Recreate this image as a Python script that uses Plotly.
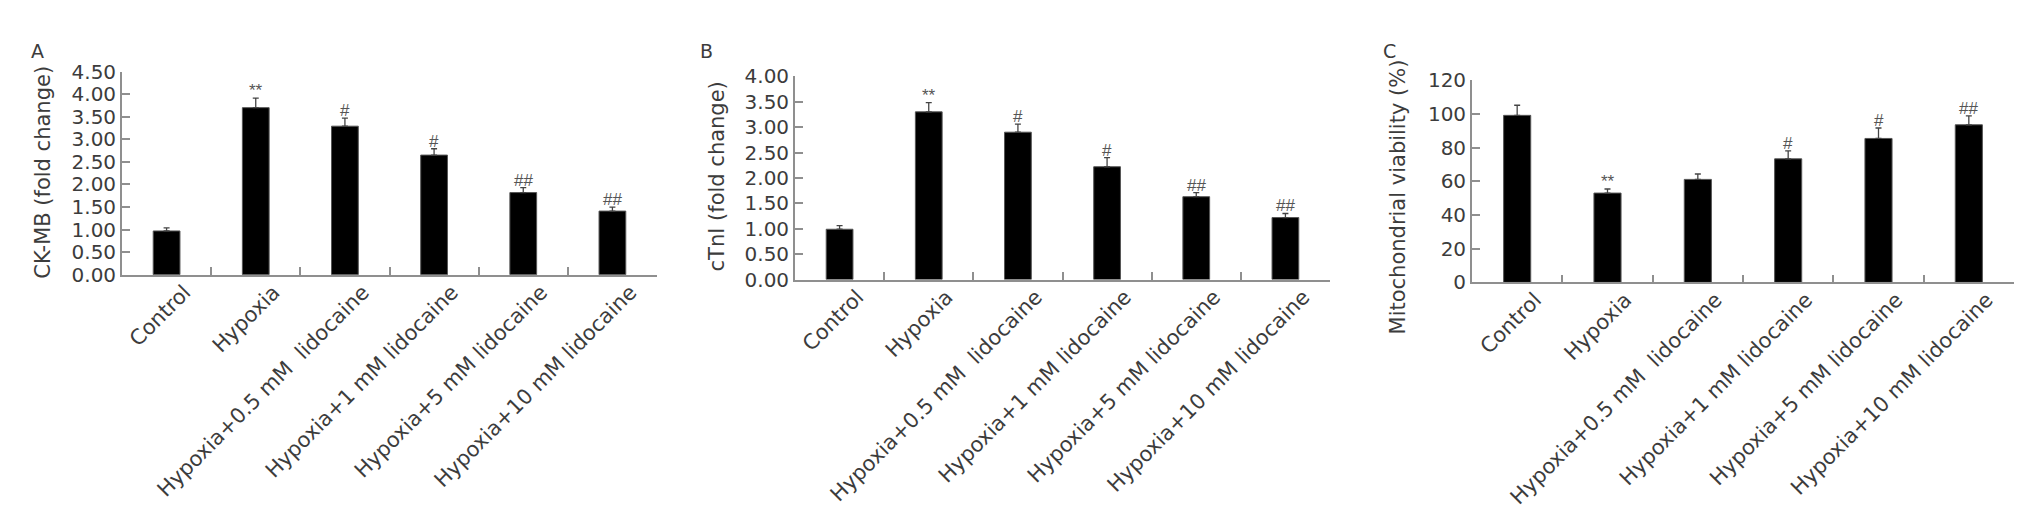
import plotly.graph_objects as go

categories = ["Control", "Hypoxia", "Hypoxia+0.5 mM  lidocaine", "Hypoxia+1 mM lidocaine",
              "Hypoxia+5 mM lidocaine", "Hypoxia+10 mM lidocaine"]

ckmb = [0.97, 3.70, 3.29, 2.65, 1.82, 1.41]
ckmb_err = [0.07, 0.21, 0.18, 0.14, 0.11, 0.09]
ckmb_sig = ["", "**", "#", "#", "##", "##"]

ctni = [0.99, 3.30, 2.90, 2.22, 1.63, 1.22]
ctni_err = [0.07, 0.18, 0.16, 0.18, 0.08, 0.08]
ctni_sig = ["", "**", "#", "#", "##", "##"]

mito = [99.1, 53.0, 61.1, 73.3, 85.4, 93.5]
mito_err = [6.0, 2.4, 3.2, 4.7, 6.2, 5.3]
mito_sig = ["", "**", "", "#", "#", "##"]

W, H = 2031, 524
FONT = "DejaVu Sans, Arial, sans-serif"
SFONT = "Liberation Sans, Arial, sans-serif"
TXT = "#3c3c3c"
AX = "#8f8f8f"

panels = [
    dict(vals=ckmb, err=ckmb_err, sig=ckmb_sig, x0=114, x1=649, ytop=54, ybot=267,
         rng=[0, 4.5], dtick=0.5, fmt=".2f", title="CK-MB (fold change)", letter="A",
         lx=23, tx=35, ty=160),
    dict(vals=ctni, err=ctni_err, sig=ctni_sig, x0=787, x1=1322, ytop=59, ybot=272,
         rng=[0, 4.0], dtick=0.5, fmt=".2f", title="cTnI (fold change)", letter="B",
         lx=692, tx=709, ty=164),
    dict(vals=mito, err=mito_err, sig=mito_sig, x0=1464, x1=2006, ytop=63, ybot=275,
         rng=[0, 120], dtick=20, fmt="d", title="Mitochondrial viability (%)", letter="C",
         lx=1375, tx=1390, ty=186),
]

fig = go.Figure()
annotations = []
for i, p in enumerate(panels):
    n = "" if i == 0 else str(i + 1)
    xa, ya = "x" + n, "y" + n
    fig.add_trace(go.Bar(
        x=categories, y=p["vals"], xaxis=xa, yaxis=ya,
        marker=dict(color="black", line=dict(color="#555555", width=1)),
        error_y=dict(type="data", symmetric=False, array=p["err"],
                     arrayminus=[0] * len(p["err"]), color="#444444", thickness=1.3, width=3),
        showlegend=False,
    ))
    fig.layout["xaxis" + n] = dict(
        domain=[p["x0"] / W, p["x1"] / W], anchor=ya, type="category",
        range=[-0.5, 5.5], showline=True, linecolor=AX, linewidth=1.8,
        ticks="inside", tickson="boundaries", ticklen=8, tickcolor=AX, tickwidth=1.5,
        tickangle=-45, tickfont=dict(family=FONT, size=21, color=TXT),
        ticklabelshift=18, ticklabelstandoff=-5,
        showgrid=False, zeroline=False,
    )
    fig.layout["yaxis" + n] = dict(
        domain=[1 - p["ybot"] / H, 1 - p["ytop"] / H], anchor=xa,
        range=p["rng"], dtick=p["dtick"], tick0=0, tickformat=p["fmt"],
        showline=True, linecolor=AX, linewidth=1.8,
        ticks="inside", ticklen=8, tickcolor=AX, tickwidth=1.5,
        tickfont=dict(family=FONT, size=20, color=TXT),
        showgrid=False, zeroline=False,
    )
    annotations.append(dict(
        x=p["tx"] / W, y=1 - p["ty"] / H, xref="paper", yref="paper",
        text=p["title"], textangle=-90, showarrow=False, xanchor="center", yanchor="middle",
        font=dict(family=FONT, size=21, color=TXT),
    ))
    annotations.append(dict(
        x=p["lx"] / W, y=1 - 33 / H, xref="paper", yref="paper", text=p["letter"],
        showarrow=False, xanchor="left", yanchor="middle", xshift=-2,
        font=dict(family=FONT, size=19, color=TXT),
    ))
    for c, v, e, s in zip(categories, p["vals"], p["err"], p["sig"]):
        if s:
            annotations.append(dict(
                x=c, y=v + e, xref=xa, yref=ya, text=s, showarrow=False,
                xanchor="center", yanchor="bottom", yshift=-4,
                font=dict(family=SFONT, size=17, color="#555555"),
            ))

fig.update_layout(
    width=W, height=H, margin=dict(l=0, r=0, t=0, b=0),
    paper_bgcolor="white", plot_bgcolor="white", bargap=0.7,
    annotations=annotations,
)
fig.write_html("out.html")
